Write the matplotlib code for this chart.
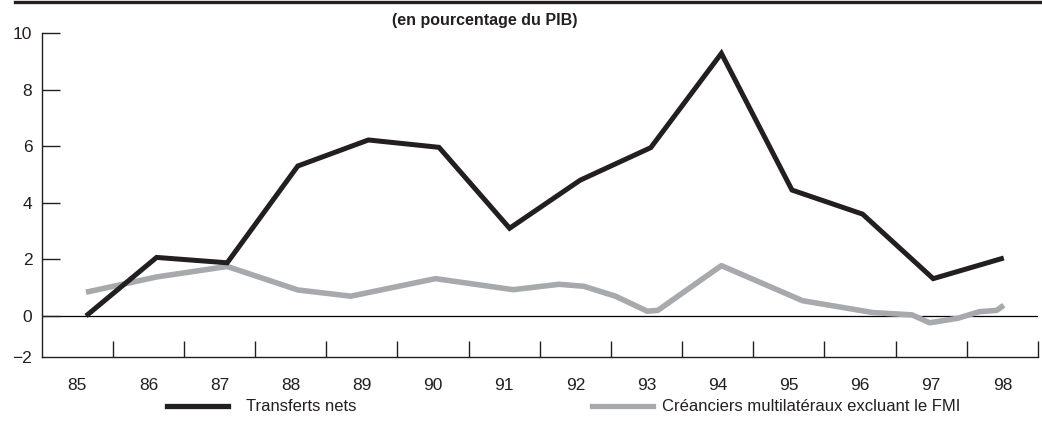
import matplotlib
matplotlib.use("Agg")
import matplotlib.pyplot as plt
from matplotlib import font_manager
from matplotlib.ticker import FixedLocator, FixedFormatter
from matplotlib.lines import Line2D
import numpy as np

# ---------------- data ----------------
years = [85, 86, 87, 88, 89, 90, 91, 92, 93, 94, 95, 96, 97, 98]
year_labels = ["85", "86", "87", "88", "89", "90", "91", "92", "93", "94", "95", "96", "97", "98"]
transferts_nets = [0.0, 2.07, 1.88, 5.30, 6.22, 5.96, 3.10, 4.80, 5.95, 9.28, 4.45, 3.60, 1.32, 2.05]

creanciers_x = [85.0, 86.0, 87.0, 88.0, 88.75, 89.95, 91.05, 91.7, 92.05, 92.5,
                92.95, 93.1, 94.0, 95.15, 96.15, 96.7, 96.95, 97.35, 97.65, 97.9, 98.0]
creanciers_y = [0.84, 1.38, 1.75, 0.92, 0.70, 1.32, 0.93, 1.12, 1.05, 0.70,
                0.17, 0.20, 1.78, 0.54, 0.12, 0.04, -0.24, -0.08, 0.15, 0.20, 0.38]

y_ticks = [0, 2, 4, 6, 8, 10]
y_tick_labels = ["0", "2", "4", "6", "8", "10"]
title = "(en pourcentage du PIB)"
legend_labels = ["Transferts nets", "Créanciers multilatéraux excluant le FMI"]

# ---------------- style ----------------
names = {f.name for f in font_manager.fontManager.ttflist}
fam = "Liberation Sans Narrow" if "Liberation Sans Narrow" in names else "Liberation Sans"
plt.rcParams["font.family"] = [fam, "DejaVu Sans"]

BLACK = "#231f20"
GREY = "#a7a9ac"

fig = plt.figure(figsize=(10.42, 4.40), dpi=100)
W, H = 1042, 440
ax = fig.add_axes([42 / W, (H - 357) / H, (1038 - 42) / W, (357 - 33) / H])

x0 = 85 - (86 - 42) / 70.6
x1 = 85 + (1038 - 86) / 70.6
ybot = -(357 - 316) / 28.3
ax.set_xlim(x0, x1)
ax.set_ylim(ybot, 10)

ax.axhline(0, color="black", lw=0.9, zorder=1)

ax.plot(creanciers_x, creanciers_y, color=GREY, lw=4.0, solid_joinstyle="round",
        solid_capstyle="butt", zorder=2)
ax.plot(years, transferts_nets, color=BLACK, lw=3.6, solid_joinstyle="miter",
        solid_capstyle="butt", zorder=3)

for s in ["top", "right"]:
    ax.spines[s].set_visible(False)
for s in ["left", "bottom"]:
    ax.spines[s].set_linewidth(1.0)
    ax.spines[s].set_color(BLACK)

# y axis
ax.yaxis.set_major_locator(FixedLocator(y_ticks))
ax.yaxis.set_major_formatter(FixedFormatter(y_tick_labels))
ax.yaxis.set_minor_locator(FixedLocator([ybot]))
ax.yaxis.set_minor_formatter(FixedFormatter(["\u22122"]))
ax.tick_params(axis="y", which="major", direction="in", length=13, width=1.0,
               color=BLACK, labelsize=12.5, pad=7, labelcolor=BLACK)
ax.tick_params(axis="y", which="minor", length=0, labelsize=12.5, pad=7, labelcolor=BLACK)

# x axis: tick marks between years, labels centred between marks
span = (x1 - 85.38) / 13
tick_pos = [85.38 + k * span for k in range(14)]
label_pos = [t - span / 2 for t in tick_pos]
ax.xaxis.set_minor_locator(FixedLocator(tick_pos))
ax.xaxis.set_major_locator(FixedLocator(label_pos))
ax.xaxis.set_major_formatter(FixedFormatter(year_labels))
ax.tick_params(axis="x", which="minor", direction="in", length=11.5, width=1.0, color=BLACK)
ax.tick_params(axis="x", which="major", length=0, labelsize=12.5, pad=15, labelcolor=BLACK)

# top rule
fig.add_artist(Line2D([15 / W, 1040 / W], [1 - 2 / H, 1 - 2 / H], color=BLACK, lw=2.4,
                      transform=fig.transFigure))

fig.text(485 / W, 1 - 20 / H, title, ha="center", va="center", fontsize=11.5,
         fontweight="bold", color=BLACK)

# legend
ly = 1 - 406 / H
fig.add_artist(Line2D([167 / W, 228 / W], [ly, ly], color=BLACK, lw=3.8,
                      transform=fig.transFigure))
fig.text(246 / W, ly, legend_labels[0], ha="left", va="center", fontsize=12, color=BLACK)
fig.add_artist(Line2D([592 / W, 653 / W], [ly, ly], color=GREY, lw=3.8,
                      transform=fig.transFigure))
fig.text(662 / W, ly, legend_labels[1], ha="left", va="center", fontsize=12, color=BLACK)

fig.savefig("out.png", dpi=100)
